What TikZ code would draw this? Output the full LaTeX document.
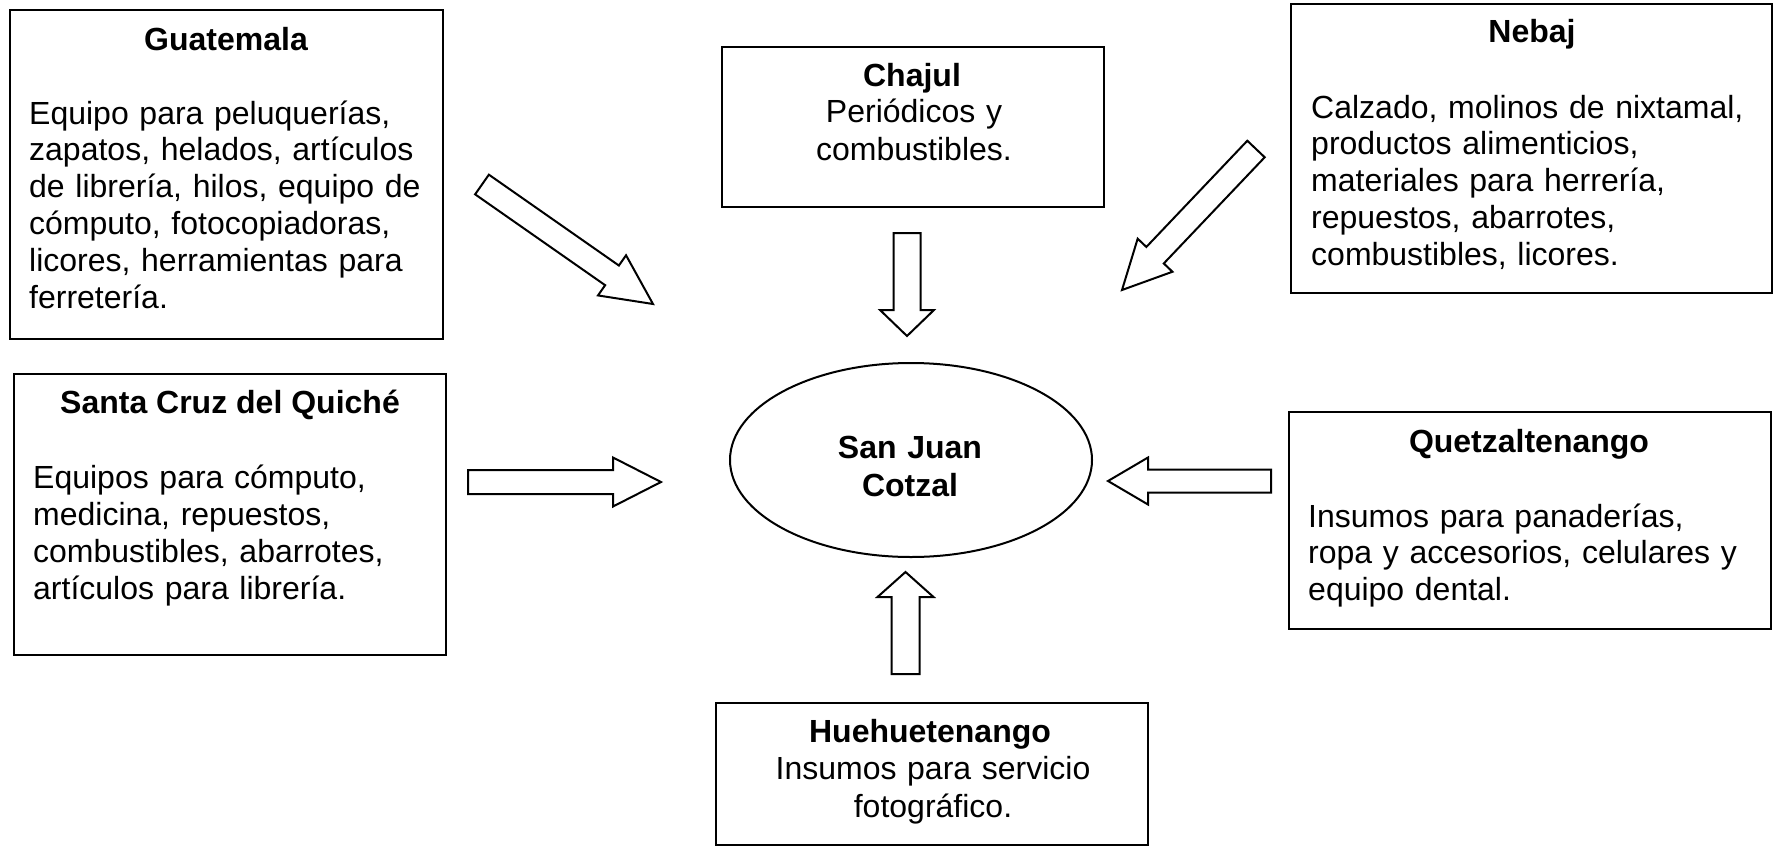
\documentclass[tikz,border=0pt]{standalone}
\usepackage{fontspec}
\setmainfont{Liberation Sans}
\usetikzlibrary{calc,shapes.geometric}
% block arrow: tail, tip, shaft half width, head half width, head length
\newcommand\blockarrow[5]{%
  \path ($(#2)!#5!(#1)$) coordinate (bh);
  \draw[arrowline] ($(#1)!#3!90:(#2)$) -- ($(bh)!#3!-90:(#1)$) -- ($(bh)!#4!-90:(#1)$)
    -- (#2) -- ($(bh)!#4!90:(#1)$) -- ($(bh)!#3!90:(#1)$) -- ($(#1)!#3!-90:(#2)$) -- cycle;}
\tikzset{
  box/.style={draw, line width=2pt, rectangle, inner sep=0},
  arrowline/.style={draw, line width=2pt, line join=miter, fill=white},
  ttl/.style={font=\fontsize{32}{36.8}\selectfont\bfseries, inner sep=0, anchor=base},
  body/.style={font=\fontsize{32}{36.8}\selectfont, inner sep=0, anchor=base west, text width=450pt, align=left},
  cbody/.style={font=\fontsize{32}{38}\selectfont, inner sep=0, anchor=base, text width=420pt, align=center},
}
\begin{document}
\begin{tikzpicture}[x=1pt,y=-1pt]
\path[use as bounding box, fill=white] (0,0) rectangle (1775,849);

% boxes
\node[box, minimum width=433pt, minimum height=329pt] (guat) at (226.5,174.5) {};
\node[box, minimum width=432pt, minimum height=281pt] (quiche) at (230,514.5) {};
\node[box, minimum width=382pt, minimum height=160pt] (chajul) at (913,127) {};
\node[box, minimum width=481pt, minimum height=289pt] (nebaj) at (1531.5,148.5) {};
\node[box, minimum width=482pt, minimum height=217pt] (quetz) at (1530,520.5) {};
\node[box, minimum width=432pt, minimum height=142pt] (huehue) at (932,774) {};
\node[draw, line width=2pt, ellipse, minimum width=362pt, minimum height=194pt, inner sep=0] (sj) at (911,460) {};

% texts
\node[ttl] (guatT) at (226,50) {Guatemala};
\node[body] (guatB) at (29,124) {Equipo para peluquerías,\\zapatos, helados, artículos\\de librería, hilos, equipo de\\cómputo, fotocopiadoras,\\licores, herramientas para\\ferretería.};

\node[ttl] (quicheT) at (230,413) {Santa Cruz del Quiché};
\node[body, font=\fontsize{32}{37}\selectfont] (quicheB) at (33,488) {Equipos para cómputo,\\medicina, repuestos,\\combustibles, abarrotes,\\artículos para librería.};

\node[ttl] (chajulT) at (912,86) {Chajul};
\node[cbody] (chajulB) at (914,122) {Periódicos y\\combustibles.};

\node[ttl] (nebajT) at (1532,42) {Nebaj};
\node[body] (nebajB) at (1311,118) {Calzado, molinos de nixtamal,\\productos alimenticios,\\materiales para herrería,\\repuestos, abarrotes,\\combustibles, licores.};

\node[ttl] (quetzT) at (1529,452) {Quetzaltenango};
\node[body, font=\fontsize{32}{36.5}\selectfont] (quetzB) at (1308,527) {Insumos para panaderías,\\ropa y accesorios, celulares y\\equipo dental.};

\node[ttl] (huehueT) at (930,742) {Huehuetenango};
\node[cbody] (huehueB) at (933,779) {Insumos para servicio\\fotográfico.};

\node[font=\fontsize{32}{38}\selectfont\bfseries, inner sep=0, anchor=base, text width=300pt, align=center] (sjT) at (910,458) {San Juan\\Cotzal};

% arrow end points
\coordinate (ga1) at (482,184.5);  \coordinate (ga2) at (653,304);
\coordinate (na1) at (1256,149);   \coordinate (na2) at (1122,290);
\coordinate (qa1) at (468,482);    \coordinate (qa2) at (661,482);
\coordinate (za1) at (1271,481);   \coordinate (za2) at (1108,481);
\coordinate (ca1) at (907,233);    \coordinate (ca2) at (907,336);
\coordinate (ha1) at (905.5,674);  \coordinate (ha2) at (905.5,572);

\blockarrow{ga1}{ga2}{12pt}{24.5pt}{50pt}
\blockarrow{na1}{na2}{12pt}{24pt}{48pt}
\blockarrow{qa1}{qa2}{12pt}{24.5pt}{48pt}
\blockarrow{za1}{za2}{11.5pt}{23.5pt}{40pt}
\blockarrow{ca1}{ca2}{13.5pt}{27pt}{26pt}
\blockarrow{ha1}{ha2}{14pt}{28pt}{25pt}
\end{tikzpicture}
\end{document}
